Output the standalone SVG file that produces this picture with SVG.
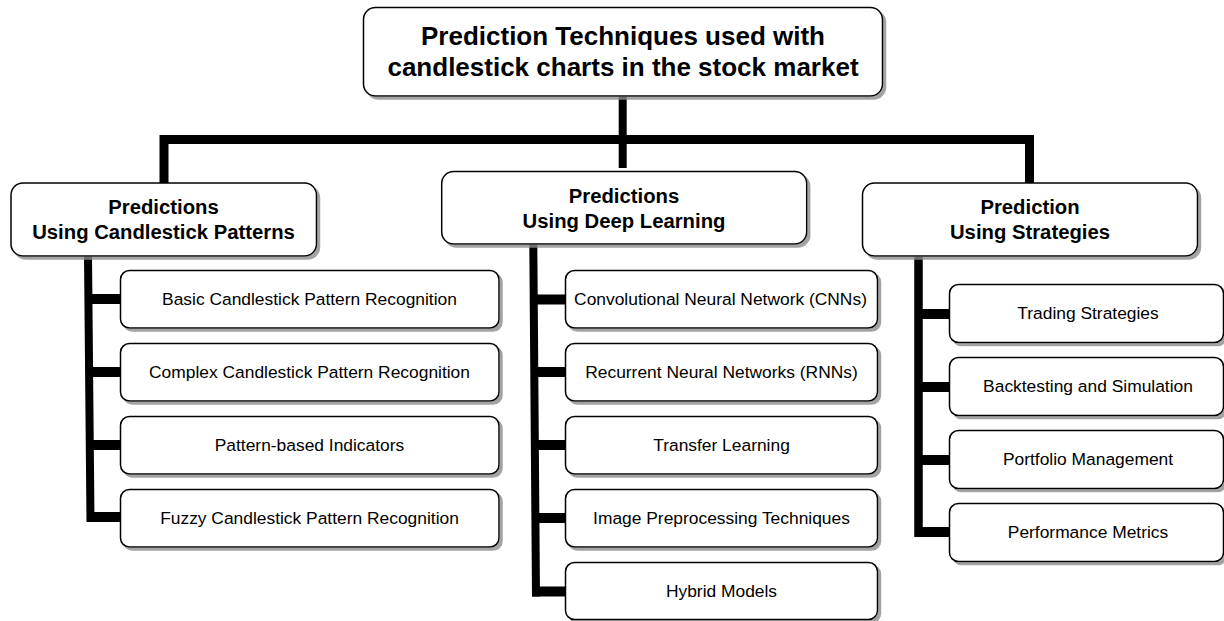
<svg xmlns="http://www.w3.org/2000/svg" width="1224" height="621" viewBox="0 0 1224 621">
<defs>
<filter id="sh" x="-5%" y="-10%" width="115%" height="130%">
<feDropShadow dx="3" dy="3" stdDeviation="0.6" flood-color="#8c8c8c" flood-opacity="0.8"/>
</filter>
<style>
.box{fill:#fff;stroke:#000;stroke-width:1.5;filter:url(#sh)}
.t0{font-family:"Liberation Sans",Arial,sans-serif;font-size:26px;font-weight:bold;fill:#000;text-anchor:middle}
.t1{font-family:"Liberation Sans",Arial,sans-serif;font-size:20.3px;font-weight:bold;fill:#000;text-anchor:middle}
.t2{font-family:"Liberation Sans",Arial,sans-serif;font-size:17.4px;fill:#000;text-anchor:middle}
.bar{fill:none;stroke:#000;stroke-width:9;stroke-linejoin:miter}
.con{fill:none;stroke:#000;stroke-width:10}
</style>
</defs>
<rect width="1224" height="621" fill="#fff"/>

<g id="connectors">
<path class="bar" d="M622.7,96 V168" style="stroke-width:8"/>
<path class="bar" d="M164,184 V139.5 H1029.5 V184"/>
<path class="bar" d="M88,256 L90.5,522" style="stroke-width:8"/>
<path class="con" d="M86,299 H121"/>
<path class="con" d="M86,372 H121"/>
<path class="con" d="M87,445 H121"/>
<path class="con" d="M87,517 H121"/>
<path class="bar" d="M533.3,244 L536,596.5" style="stroke-width:8"/>
<path class="con" d="M531,299.5 H566"/>
<path class="con" d="M532,372 H566"/>
<path class="con" d="M532,445 H566"/>
<path class="con" d="M532,518 H566"/>
<path class="con" d="M532,591.5 H566"/>
<path class="bar" d="M918.5,256 V537" style="stroke-width:8.5"/>
<path class="con" d="M915,314 H950"/>
<path class="con" d="M915,387 H950"/>
<path class="con" d="M915,460 H950"/>
<path class="con" d="M915,532 H950"/>
</g>

<g id="root">
<rect class="box" x="363.5" y="7.5" width="519" height="88.5" rx="12"/>
<text class="t0" x="623" y="44.5">Prediction Techniques used with</text>
<text class="t0" x="623" y="75.5">candlestick charts in the stock market</text>
</g>

<g id="cat-candlestick">
<rect class="box" x="11" y="183" width="305.5" height="73" rx="12"/>
<text class="t1" x="163.5" y="213.5">Predictions</text>
<text class="t1" x="163.5" y="239">Using Candlestick Patterns</text>
</g>
<g id="cat-deep">
<rect class="box" x="441.7" y="171.5" width="365" height="72.5" rx="12"/>
<text class="t1" x="624" y="202.7">Predictions</text>
<text class="t1" x="624" y="227.7">Using Deep Learning</text>
</g>
<g id="cat-strategies">
<rect class="box" x="862.5" y="183" width="335" height="73" rx="12"/>
<text class="t1" x="1030" y="213.5">Prediction</text>
<text class="t1" x="1030" y="239">Using Strategies</text>
</g>

<g id="c1-1"><rect class="box" x="120.5" y="270.5" width="378.5" height="57.5" rx="9"/><text class="t2" x="309.5" y="305">Basic Candlestick Pattern Recognition</text></g>
<g id="c1-2"><rect class="box" x="120.5" y="343.5" width="378.5" height="57.5" rx="9"/><text class="t2" x="309.5" y="378">Complex Candlestick Pattern Recognition</text></g>
<g id="c1-3"><rect class="box" x="120.5" y="416.5" width="378.5" height="57.5" rx="9"/><text class="t2" x="309.5" y="451">Pattern-based Indicators</text></g>
<g id="c1-4"><rect class="box" x="120.5" y="489.5" width="378.5" height="57.5" rx="9"/><text class="t2" x="309.5" y="524">Fuzzy Candlestick Pattern Recognition</text></g>

<g id="c2-1"><rect class="box" x="565.5" y="270.5" width="312" height="57.5" rx="9"/><text class="t2" x="720.5" y="305">Convolutional Neural Network (CNNs)</text></g>
<g id="c2-2"><rect class="box" x="565.5" y="343.5" width="312" height="57.5" rx="9"/><text class="t2" x="721.5" y="378">Recurrent Neural Networks (RNNs)</text></g>
<g id="c2-3"><rect class="box" x="565.5" y="416.5" width="312" height="57.5" rx="9"/><text class="t2" x="721.5" y="451">Transfer Learning</text></g>
<g id="c2-4"><rect class="box" x="565.5" y="489.5" width="312" height="57.5" rx="9"/><text class="t2" x="721.5" y="524">Image Preprocessing Techniques</text></g>
<g id="c2-5"><rect class="box" x="565.5" y="562.5" width="312" height="57" rx="9"/><text class="t2" x="721.5" y="597">Hybrid Models</text></g>

<g id="c3-1"><rect class="box" x="949.5" y="284.5" width="274" height="58" rx="9"/><text class="t2" x="1088" y="319">Trading Strategies</text></g>
<g id="c3-2"><rect class="box" x="949.5" y="357.5" width="274" height="58" rx="9"/><text class="t2" x="1088" y="392">Backtesting and Simulation</text></g>
<g id="c3-3"><rect class="box" x="949.5" y="430.5" width="274" height="58" rx="9"/><text class="t2" x="1088" y="465">Portfolio Management</text></g>
<g id="c3-4"><rect class="box" x="949.5" y="503.5" width="274" height="58" rx="9"/><text class="t2" x="1088" y="538">Performance Metrics</text></g>
</svg>
